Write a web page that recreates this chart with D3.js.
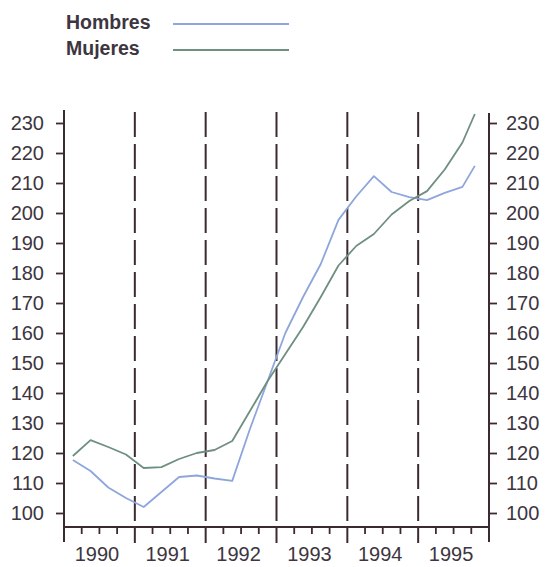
<!DOCTYPE html>
<html><head><meta charset="utf-8">
<script src="https://cdn.jsdelivr.net/npm/d3@7"></script>
<style>body{margin:0;background:#fff}svg{display:block}</style>
</head><body>
<script>
const years = [1990, 1991, 1992, 1993, 1994, 1995];
const yTicks = [100,110,120,130,140,150,160,170,180,190,200,210,220,230];
const quarters = [1990.125,1990.375,1990.625,1990.875,1991.125,1991.375,1991.625,1991.875,
  1992.125,1992.375,1992.625,1992.875,1993.125,1993.375,1993.625,1993.875,
  1994.125,1994.375,1994.625,1994.875,1995.125,1995.375,1995.625,1995.8];
const hombres = [117.7,114,108.5,105,102,107,112,112.5,111.5,110.7,128,144,
  160,172,183,197.7,205.5,212.3,207,205.3,204.3,206.7,208.7,215.7];
const mujeres = [119,124.3,122,119.5,115,115.3,118,120,121,124,134,144,
  153,162,172,182.5,189,193,199.5,204,207.3,214.5,223.5,233];
const seriesNames = ["Hombres", "Mujeres"];
const colors = ["#8ea6dc", "#6f8f80"];

const W = 545, H = 567;
const axisCol = "#3c2a33", textCol = "#3d3540";
const svg = d3.select("body").append("svg").attr("width", W).attr("height", H);
const x = d3.scaleLinear().domain([1990, 1996]).range([64, 489]);
const y = d3.scaleLinear().domain([100, 230]).range([513, 123]);
const baseY = 527;

// legend
seriesNames.forEach((n, i) => {
  const ly = [24, 50][i];
  svg.append("text").attr("x", 66).attr("y", ly + 5).text(n)
    .attr("font-family", "Liberation Sans, Arial, sans-serif").attr("font-weight", "bold")
    .attr("font-size", 19.5).attr("fill", textCol);
  svg.append("line").attr("x1", 173).attr("x2", 289).attr("y1", ly).attr("y2", ly)
    .attr("stroke", colors[i]).attr("stroke-width", 1.8);
});

// dashed year dividers
svg.selectAll("line.div").data(years.slice(1)).join("line").attr("class", "div")
  .attr("x1", d => x(d)).attr("x2", d => x(d)).attr("y1", 112).attr("y2", baseY)
  .attr("stroke", axisCol).attr("stroke-width", 2).attr("stroke-dasharray", "25,7");

// left axis
const yl = svg.append("g").attr("transform", `translate(${x(1990)},0)`)
  .call(d3.axisLeft(y).tickValues(yTicks).tickSize(8).tickPadding(12));
yl.select(".domain").remove();
yl.append("line").attr("x1", 0).attr("x2", 0).attr("y1", 110).attr("y2", 542)
  .attr("stroke", axisCol).attr("stroke-width", 2);
// right axis
const yr = svg.append("g").attr("transform", `translate(${x(1996)},0)`)
  .call(d3.axisRight(y).tickValues(yTicks).tickSize(8).tickPadding(9));
yr.select(".domain").remove();
yr.append("line").attr("x1", 0).attr("x2", 0).attr("y1", 113).attr("y2", 542)
  .attr("stroke", axisCol).attr("stroke-width", 2);
[yl, yr].forEach(g => {
  g.selectAll(".tick line").attr("stroke", axisCol).attr("stroke-width", 1.8);
  g.selectAll(".tick text").attr("font-size", 20).attr("fill", textCol)
    .attr("font-family", "Liberation Sans, Arial, sans-serif");
});

// bottom axis
const minor = d3.range(1990, 1996.01, 0.25).filter(d => Math.abs(d - Math.round(d)) > 0.01);
const xb = svg.append("g").attr("transform", `translate(0,${baseY})`);
xb.append("line").attr("x1", x(1990)).attr("x2", x(1996)).attr("stroke", axisCol).attr("stroke-width", 2);
xb.selectAll("line.mn").data(minor).join("line").attr("class", "mn")
  .attr("x1", d => x(d)).attr("x2", d => x(d)).attr("y1", 0).attr("y2", 7)
  .attr("stroke", axisCol).attr("stroke-width", 1.8);
xb.selectAll("line.mj").data(years.slice(1)).join("line").attr("class", "mj")
  .attr("x1", d => x(d)).attr("x2", d => x(d)).attr("y1", 0).attr("y2", 16)
  .attr("stroke", axisCol).attr("stroke-width", 2);
xb.selectAll("text").data(years).join("text")
  .attr("x", d => x(d + 0.5) - 2.5).attr("y", 34).attr("text-anchor", "middle")
  .text(d => d).attr("font-size", 20).attr("fill", textCol)
  .attr("font-family", "Liberation Sans, Arial, sans-serif");

// lines
const line = d3.line().x((d, i) => x(quarters[i])).y(d => y(d));
[hombres, mujeres].forEach((s, i) => {
  svg.append("path").datum(s).attr("d", line).attr("fill", "none")
    .attr("stroke", colors[i]).attr("stroke-width", 1.8).attr("stroke-linejoin", "round");
});
</script>
</body></html>
